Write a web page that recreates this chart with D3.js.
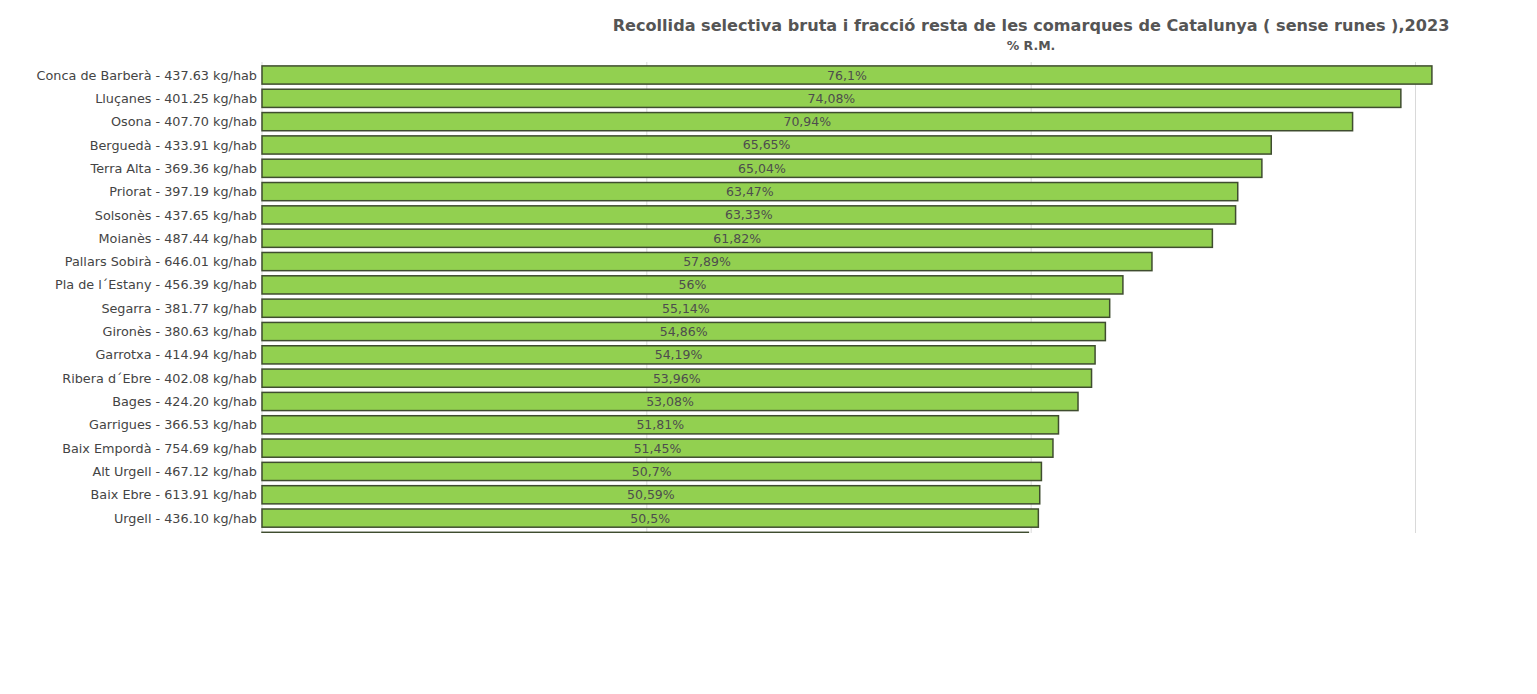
<!DOCTYPE html>
<html>
<head>
<meta charset="utf-8">
<script src="https://cdn.jsdelivr.net/npm/d3@7"></script>
<style>
  body { margin: 0; background: #fff; }
  svg text { font-family: "DejaVu Sans", Verdana, sans-serif; }
</style>
</head>
<body>
<svg id="chart" width="1537" height="694"></svg>
<script>
// comarques (top to bottom), kg per habitant and % recollida selectiva
const comarques = ["Conca de Barberà", "Lluçanes", "Osona", "Berguedà", "Terra Alta", "Priorat", "Solsonès",
  "Moianès", "Pallars Sobirà", "Pla de l´Estany", "Segarra", "Gironès", "Garrotxa", "Ribera d´Ebre",
  "Bages", "Garrigues", "Baix Empordà", "Alt Urgell", "Baix Ebre", "Urgell", "(següent)"];
const kgHab = ["437.63", "401.25", "407.70", "433.91", "369.36", "397.19", "437.65", "487.44", "646.01",
  "456.39", "381.77", "380.63", "414.94", "402.08", "424.20", "366.53", "754.69", "467.12", "613.91", "436.10", ""];
const percent = [76.1, 74.08, 70.94, 65.65, 65.04, 63.47, 63.33, 61.82, 57.89, 56, 55.14, 54.86, 54.19,
  53.96, 53.08, 51.81, 51.45, 50.7, 50.59, 50.5, 49.85];
const gridTicks = [25, 50, 75];

const title = "Recollida selectiva bruta i fracció resta de les comarques de Catalunya ( sense runes ),2023";
const subtitle = "% R.M.";

const plotTop = 62, plotBottom = 533, step = 23.32;

const svg = d3.select("#chart");

const x = d3.scaleLinear().domain([0, 75]).range([262, 1415]);
const y = d3.scaleBand()
  .domain(comarques)
  .range([63.35, 63.35 + step * comarques.length])
  .paddingInner(0.22)
  .paddingOuter(0.11);

const fmt = v => String(v).replace(".", ",") + "%";

// titles
svg.append("text")
  .attr("x", 1031).attr("y", 31)
  .attr("text-anchor", "middle")
  .attr("fill", "#555")
  .attr("font-size", 16.1).attr("font-weight", "bold")
  .text(title);
svg.append("text")
  .attr("x", 1031).attr("y", 50)
  .attr("text-anchor", "middle")
  .attr("fill", "#555")
  .attr("font-size", 12.5).attr("font-weight", "bold")
  .text(subtitle);

// clip for the plot area
svg.append("clipPath").attr("id", "plot")
  .append("rect")
  .attr("x", 255).attr("y", plotTop)
  .attr("width", 1300).attr("height", plotBottom - plotTop);

// grid lines
svg.append("g")
  .attr("transform", "translate(0," + plotBottom + ")")
  .call(d3.axisBottom(x).tickValues(gridTicks).tickSize(-(plotBottom - plotTop)).tickFormat(""))
  .call(g => g.select(".domain").remove())
  .call(g => g.selectAll("line").attr("stroke", "#d9d9d9"));

svg.append("line")
  .attr("x1", x(0)).attr("x2", x(0))
  .attr("y1", plotTop).attr("y2", plotBottom)
  .attr("stroke", "#d9d9d9");

// bars
const plot = svg.append("g").attr("clip-path", "url(#plot)");
plot.selectAll("rect.bar")
  .data(percent)
  .join("rect")
  .attr("class", "bar")
  .attr("x", x(0))
  .attr("y", (d, i) => y(comarques[i]))
  .attr("width", d => x(d) - x(0))
  .attr("height", y.bandwidth())
  .attr("fill", "#92d050")
  .attr("stroke", "#3f4d2f")
  .attr("stroke-width", 1.5);

plot.selectAll("text.val")
  .data(percent.slice(0, 20))
  .join("text")
  .attr("class", "val")
  .attr("x", d => (x(0) + x(d)) / 2)
  .attr("y", (d, i) => y(comarques[i]) + y.bandwidth() / 2)
  .attr("dy", "0.36em")
  .attr("text-anchor", "middle")
  .attr("fill", "#4d4d4d")
  .attr("font-size", 12.5)
  .text(fmt);

// category labels
svg.selectAll("text.cat")
  .data(comarques.slice(0, 20))
  .join("text")
  .attr("class", "cat")
  .attr("x", 257)
  .attr("y", d => y(d) + y.bandwidth() / 2)
  .attr("dy", "0.36em")
  .attr("text-anchor", "end")
  .attr("fill", "#444")
  .attr("font-size", 12.8)
  .text((d, i) => d + " - " + kgHab[i] + " kg/hab");
</script>
</body>
</html>
